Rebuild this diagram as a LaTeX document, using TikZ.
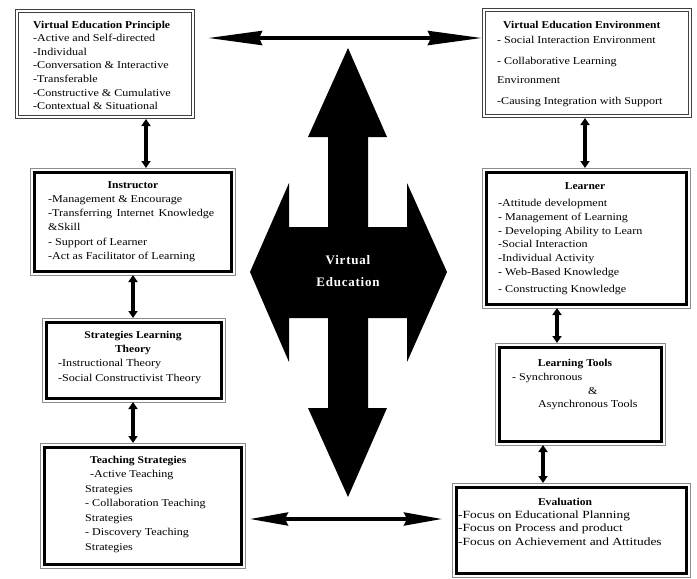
\documentclass[tikz,border=0pt]{standalone}
\usepackage{fontspec}
\setmainfont{Liberation Serif}
\usetikzlibrary{arrows.meta}
\begin{document}
\begin{tikzpicture}[x=1pt,y=-1pt,
  txt/.style={font=\fontsize{10.5}{12}\selectfont\addfontfeature{FakeStretch=1.15}, inner sep=0pt, anchor=base west},
  bigt/.style={font=\fontsize{11}{12}\selectfont\addfontfeature{FakeStretch=1.22}, inner sep=0pt, anchor=base west},
  ttl/.style={font=\fontsize{10.5}{12}\selectfont\bfseries\addfontfeature{FakeStretch=1.1}, inner sep=0pt, anchor=base},
  ttlw/.style={font=\fontsize{10.5}{12}\selectfont\bfseries\addfontfeature{FakeStretch=1.1}, inner sep=0pt, anchor=base west},
  dblbox/.style={draw=black!75, line width=0.8pt, double=white, double distance=2.4pt, inner sep=0pt, outer sep=2pt},
  thickbox/.style={draw=black, line width=3pt, inner sep=0pt, outer sep=4pt},
  grayline/.style={draw=black!45, line width=0.9pt},
  conn/.style={line width=3.5pt, {Triangle[length=7pt,width=9pt]}-{Triangle[length=7pt,width=9pt]}},
  longarrow/.style={line width=4pt, {Stealth[length=54pt,width=14pt,inset=3pt]}-{Stealth[length=54pt,width=14pt,inset=3pt]}},
  shortarrow/.style={line width=3.5pt, {Stealth[length=38pt,width=13pt,inset=3pt]}-{Stealth[length=38pt,width=13pt,inset=3pt]}},
  bigtxt/.style={font=\fontsize{13}{15}\selectfont\bfseries\addfontfeature{LetterSpace=6}, text=white, inner sep=0pt, anchor=base}
]
\useasboundingbox (0,0) rectangle (697,579);
\fill[white] (0,0) rectangle (697,579);

% ---------- boxes ----------
\node[dblbox, minimum width=176pt, minimum height=106pt] (prin) at (105,64) {};
\node[dblbox, minimum width=206pt, minimum height=106pt] (env) at (587,63) {};

\node[thickbox, minimum width=197pt, minimum height=99pt] (inst) at (132.5,221.5) {};
\node[thickbox, minimum width=200pt, minimum height=132pt] (lear) at (586,238) {};
\node[thickbox, minimum width=175pt, minimum height=76pt] (strat) at (133.5,360) {};
\node[thickbox, minimum width=162pt, minimum height=94pt] (tools) at (580,394) {};
\node[thickbox, minimum width=197pt, minimum height=117pt] (teach) at (142.5,505.5) {};
\node[thickbox, minimum width=230pt, minimum height=86pt] (eval) at (571,530) {};
\foreach \b in {inst,lear,strat,tools,teach,eval}
  \draw[grayline] (\b.north west) rectangle (\b.south east);

% ---------- big cross arrow ----------
\fill[black] (348,48) -- (387,137) -- (368,137) -- (368,227) -- (407,227) -- (407,183)
  -- (447,272) -- (407,362) -- (407,318) -- (368,318) -- (368,408) -- (387,408)
  -- (348,497) -- (308,408) -- (328,408) -- (328,318) -- (289,318) -- (289,362)
  -- (250,272) -- (289,183) -- (289,227) -- (328,227) -- (328,137) -- (308,137) -- cycle;
\node[bigtxt] (ve1) at (348,264) {Virtual};
\node[bigtxt] (ve2) at (348,286) {Education};

% ---------- texts ----------
% Principle
\node[ttlw] (pt) at (33,28) {Virtual Education Principle};
\foreach \yb/\tx [count=\k] in {41.6/-Active and Self-directed, 55.2/-Individual,
   68.8/-Conversation \& Interactive, 82.4/-Transferable, 96/-Constructive \& Cumulative,
   109.6/-Contextual \& Situational}
  \node[txt] (pl\k) at (33,\yb) {\tx};

% Environment
\node[ttlw] (et) at (503,28) {Virtual Education Environment};
\node[txt] (el1) at (497,43) {- Social Interaction Environment};
\node[txt] (el2) at (497,64) {- Collaborative Learning};
\node[txt] (el3) at (497,83) {Environment};
\node[txt] (el4) at (497,104) {-Causing Integration with Support};

% Instructor
\node[ttl] (it) at (133,188) {Instructor};
\node[txt] (il1) at (48,202) {-Management \& Encourage};
\node[txt] (il2) at (48,216) {\makebox[166pt][s]{-Transferring Internet Knowledge}};
\node[txt] (il3) at (48,230) {\&Skill};
\node[txt] (il4) at (48,245) {- Support of Learner};
\node[txt] (il5) at (48,259) {-Act as Facilitator of Learning};

% Learner
\node[ttl] (lt) at (585,189) {Learner};
\foreach \yb/\tx [count=\k] in {206/-Attitude development, 220/- Management of Learning,
   234/- Developing Ability to Learn, 247/-Social Interaction, 261/-Individual Activity,
   275/- Web-Based Knowledge, 292/- Constructing Knowledge}
  \node[txt] (ll\k) at (498,\yb) {\tx};

% Strategies Learning Theory
\node[ttl] (st1) at (133,338) {Strategies Learning};
\node[ttl] (st2) at (133,352) {Theory};
\node[txt] (sl1) at (58,366) {-Instructional Theory};
\node[txt] (sl2) at (58,381) {-Social Constructivist Theory};

% Learning Tools
\node[ttl] (tt) at (575,366) {Learning Tools};
\node[txt] (tl1) at (512,380) {- Synchronous};
\node[txt] (tl2) at (588,394) {\&};
\node[txt] (tl3) at (538,407) {Asynchronous Tools};

% Teaching Strategies
\node[ttlw] (tst) at (90,463) {Teaching Strategies};
\node[txt] (tsl1) at (90,477) {-Active Teaching};
\foreach \yb/\tx [count=\k] in {492/Strategies, 506/- Collaboration Teaching, 521/Strategies,
   535/- Discovery Teaching, 550/Strategies}
  \node[txt] (tsm\k) at (85,\yb) {\tx};

% Evaluation
\node[ttl] (evt) at (565,505) {Evaluation};
\node[bigt] (evl1) at (458,518) {-Focus on Educational Planning};
\node[bigt] (evl2) at (458,531) {-Focus on Process and product};
\node[bigt] (evl3) at (458,545) {-Focus on Achievement and Attitudes};

% ---------- connectors ----------
\coordinate (c1) at (146,0);
\coordinate (c2) at (585,0);
\coordinate (c3) at (133,0);
\coordinate (c4) at (557,0);
\coordinate (c5) at (543,0);
\draw[conn] (prin.south -| c1) -- (inst.north -| c1);
\draw[conn] (env.south -| c2) -- (lear.north -| c2);
\draw[conn] (inst.south -| c3) -- (strat.north -| c3);
\draw[conn] (strat.south -| c3) -- (teach.north -| c3);
\draw[conn] (lear.south -| c4) -- (tools.north -| c4);
\draw[conn] (tools.south -| c5) -- (eval.north -| c5);

\coordinate (tl) at (208,38);
\draw[longarrow] (tl) -- (env.west |- tl);
\coordinate (bl) at (250,519);
\coordinate (br) at (442,519);
\draw[shortarrow] (bl) -- (br);
\end{tikzpicture}
\end{document}
